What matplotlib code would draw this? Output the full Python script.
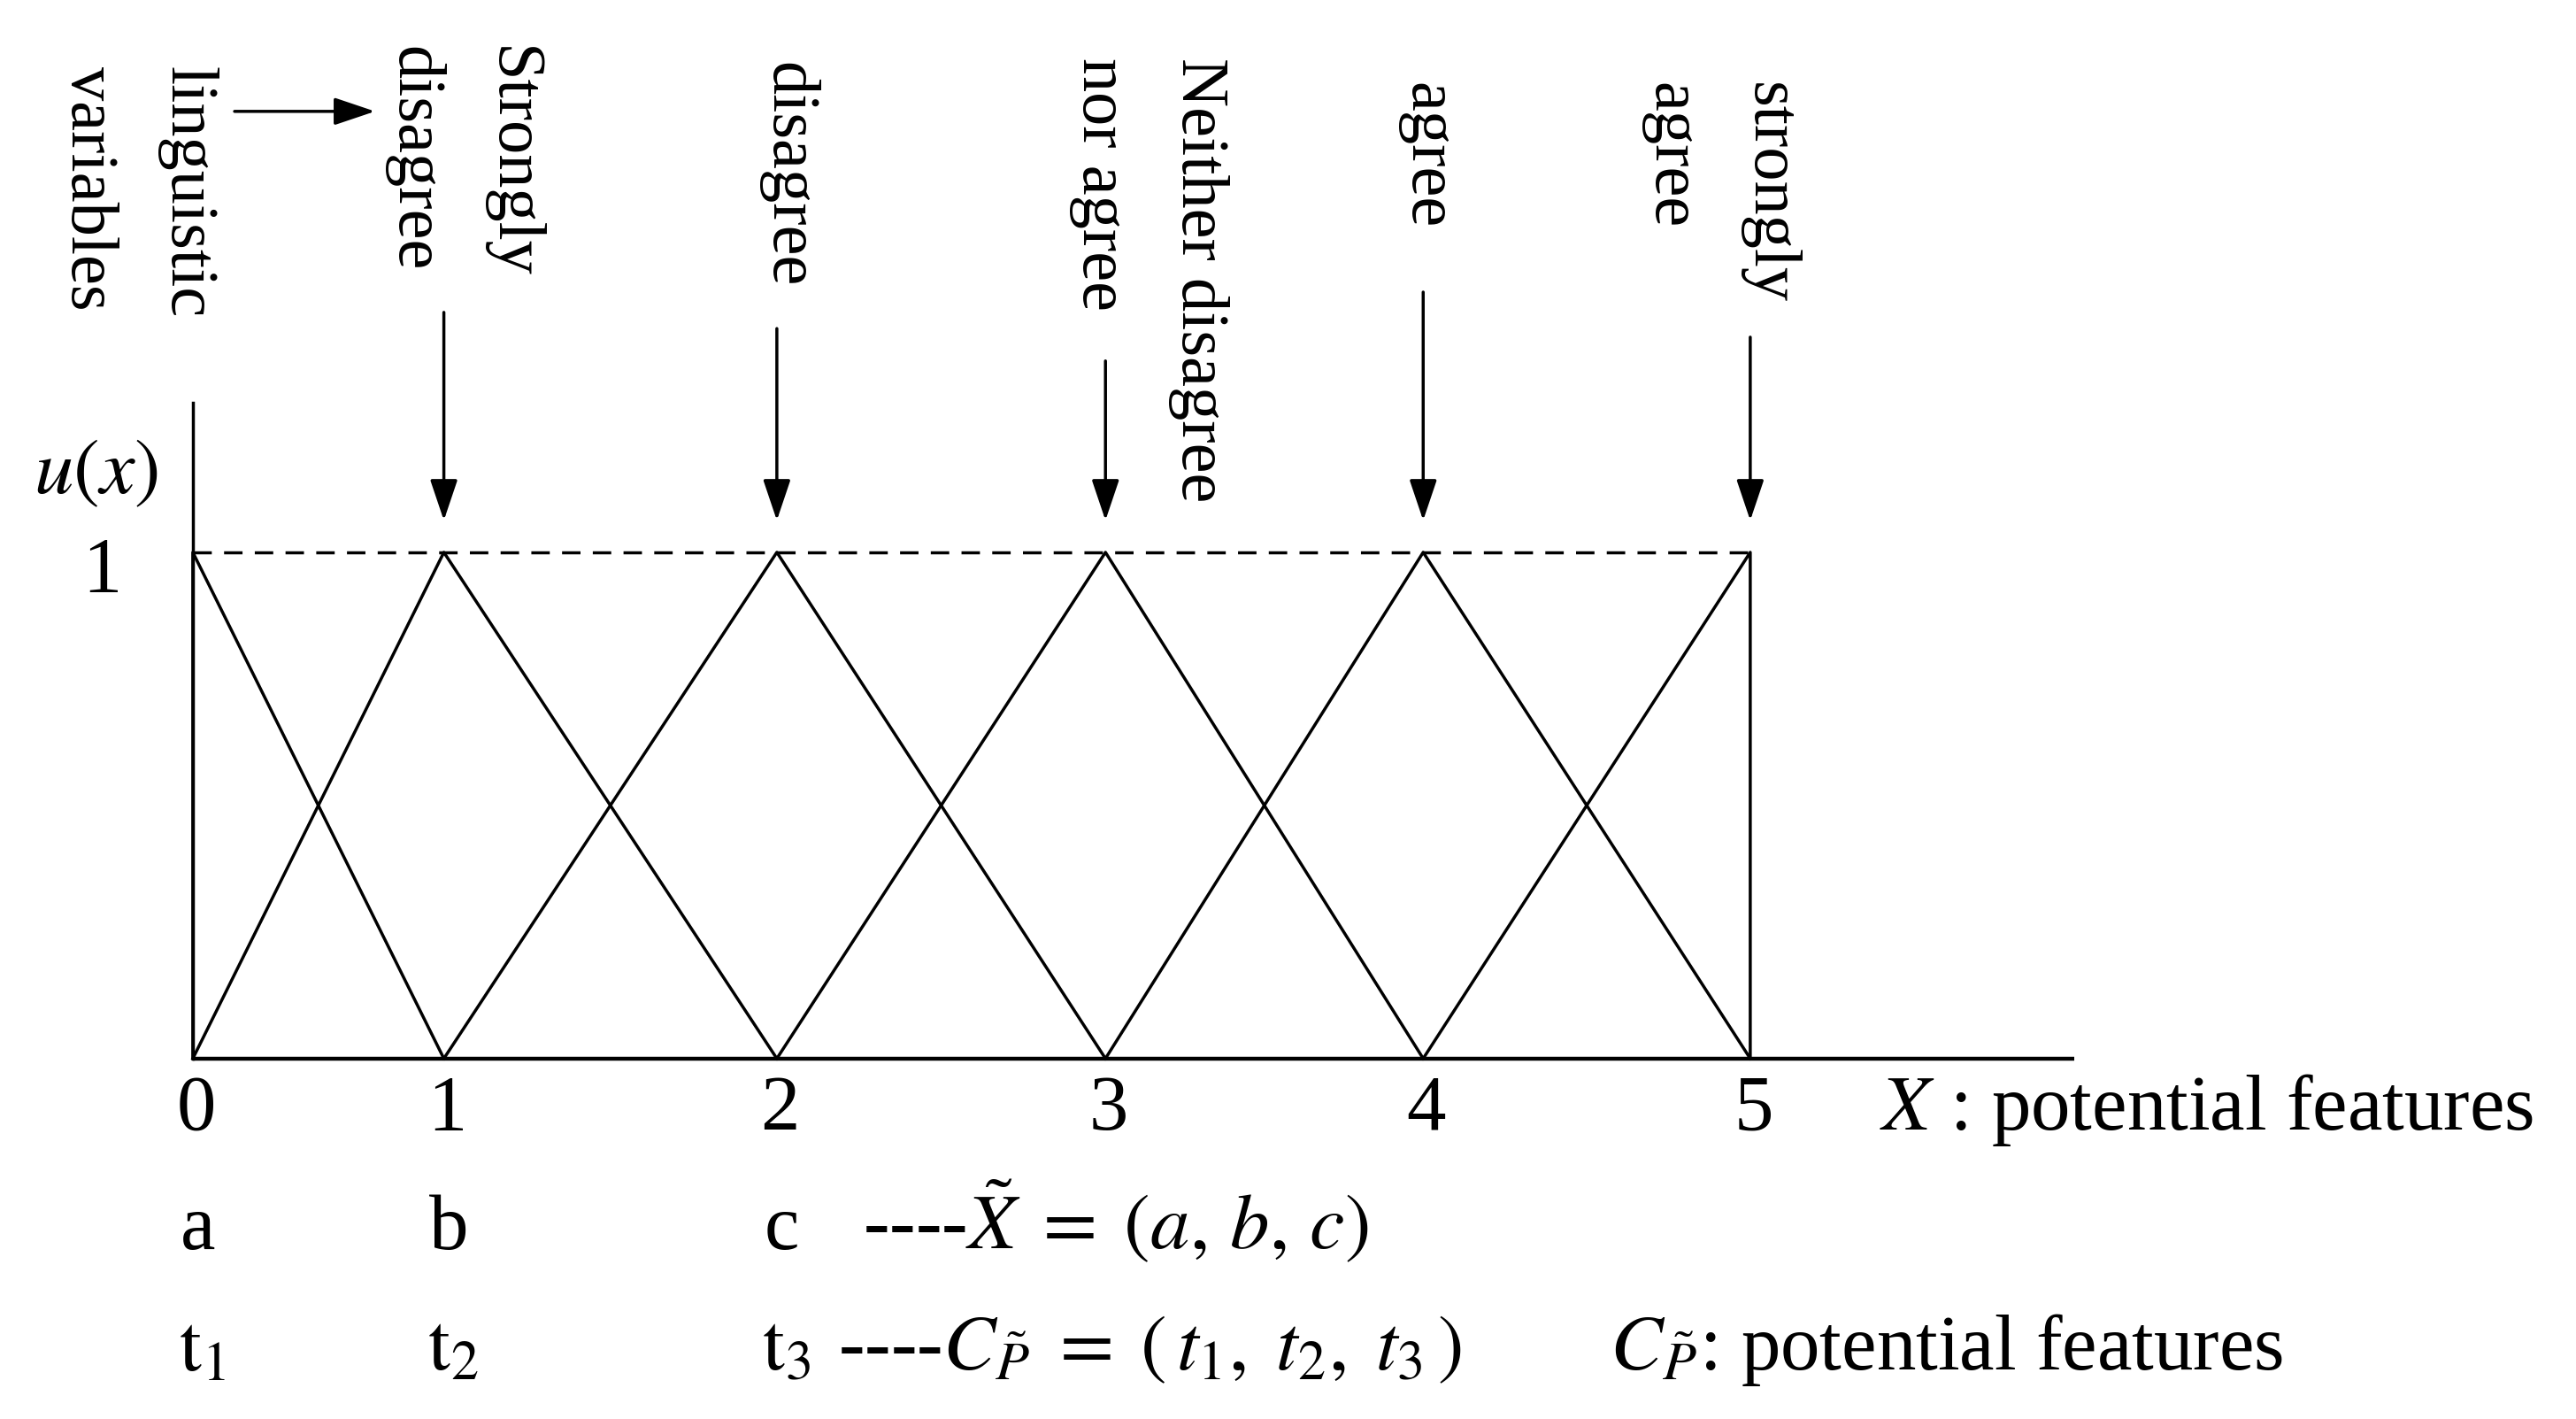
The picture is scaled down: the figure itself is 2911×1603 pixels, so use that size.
import matplotlib
matplotlib.use("Agg")
import matplotlib.pyplot as plt

plt.rcParams['font.family'] = ['Liberation Serif', 'DejaVu Serif']
plt.rcParams['mathtext.fontset'] = 'stix'

# ---- values ----
grades = ['0', '1', '2', '3', '4', '5']
grade_pos = [0.0, 0.806, 1.875, 2.93, 3.95, 5.0]   # where each grade sits on the X axis
peak_u = [1, 1, 1, 1, 1, 1]                        # membership at each triangle peak
terms = ['Strongly\ndisagree', 'disagree', 'Neither disagree\nnor agree',
         'agree', 'strongly\nagree']
tfn_letters = ['a', 'b', 'c']
feature_letters = [r'$\mathrm{t}_1$', r'$\mathrm{t}_2$', r'$\mathrm{t}_3$']

# ---- layout ----
term_x = [0.864, 1.91, 3.07, 3.96, 4.90]
term_top = [2.0, 1.968, 1.977, 1.928, 1.928]
arrow_tail = [1.474, 1.442, 1.378, 1.514, 1.425]
ARROW_TIP = 1.063
FS = 64
FS_ROT = 55
LW = 2.5

fig = plt.figure(figsize=(29.11, 16.03), dpi=100)
ax = fig.add_axes([0, 0, 1, 1])
ax.set_xlim(-0.619, 7.651)
ax.set_ylim(-0.712, 2.091)
ax.axis('off')

# axes lines
ax.plot([0, 6.04], [0, 0], color='black', lw=3.2, solid_capstyle='butt')
ax.plot([0, 0], [0, 1.295], color='black', lw=LW)
ax.plot([0, grade_pos[-1]], [peak_u[0], peak_u[-1]], color='black', lw=LW,
        linestyle=(0, (6, 4)))

# triangular membership functions
n = len(grade_pos)
for k in range(n):
    left = grade_pos[max(k - 1, 0)]
    right = grade_pos[min(k + 1, n - 1)]
    ax.plot([left, grade_pos[k], right], [0, peak_u[k], 0], color='black', lw=LW)

# grade numbers under the axis
for g, x in zip(grades, grade_pos):
    ax.text(x + 0.01, -0.14, g, fontsize=FS, ha='center', va='baseline')
ax.text(5.415, -0.14, r'$X$ : potential features', fontsize=FS, ha='left', va='baseline')

# y labels
ax.text(-0.31, 1.117, r'$u(x)$', fontsize=FS, ha='center', va='baseline')
ax.text(-0.29, 0.923, '1', fontsize=FS, ha='center', va='baseline')

# linguistic terms with arrows down to the peaks
for t, x, top in zip(terms, term_x, term_top):
    ax.text(x, top, t, fontsize=FS_ROT, rotation=270, ha='center', va='top',
            multialignment='left', linespacing=1.8)
for x, tail in zip(grade_pos[1:], arrow_tail):
    ax.annotate('', xy=(x, ARROW_TIP), xytext=(x, tail),
                arrowprops=dict(arrowstyle='-|>,head_length=0.95,head_width=0.32',
                                mutation_scale=30, color='black', lw=LW,
                                shrinkA=0, shrinkB=0))

ax.text(-0.179, 1.96, 'linguistic\nvariables', fontsize=FS_ROT, rotation=270,
        ha='center', va='top', multialignment='left', linespacing=1.8)
ax.annotate('', xy=(0.585, 1.871), xytext=(0.134, 1.871),
            arrowprops=dict(arrowstyle='-|>,head_length=0.95,head_width=0.32',
                            mutation_scale=30, color='black', lw=LW,
                            shrinkA=0, shrinkB=0))

# triangular fuzzy number rows
for s, x in zip(tfn_letters, grade_pos[:3]):
    ax.text(x + 0.015, -0.376, s, fontsize=FS, ha='center', va='baseline')
ax.text(2.15, -0.376, r'----$\tilde{X}\;=\;(a,\,b,\,c)$', fontsize=FS,
        ha='left', va='baseline')

for s, x in zip(feature_letters, grade_pos[:3]):
    ax.text(x + 0.03, -0.614, s, fontsize=FS, ha='center', va='baseline')
ax.text(2.07, -0.614, r'----$C_{\tilde{P}}\;=\;(\,t_1,\;t_2,\;t_3\,)$', fontsize=FS,
        ha='left', va='baseline')
ax.text(4.55, -0.614, r'$C_{\tilde{P}}$: potential features', fontsize=FS,
        ha='left', va='baseline')

fig.savefig('out.png', dpi=100)
